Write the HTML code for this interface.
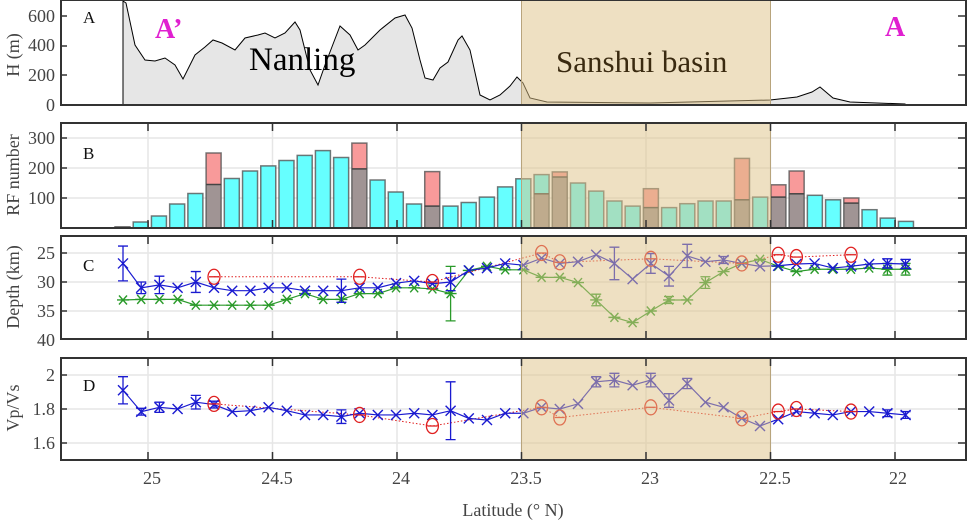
<!DOCTYPE html><html><head><meta charset="utf-8"><style>
body{margin:0;background:#fff}svg{display:block}
text{font-family:"Liberation Serif",serif}
</style></head><body>
<svg id="s" width="970" height="520" viewBox="0 0 970 520" xmlns="http://www.w3.org/2000/svg">
<rect width="970" height="520" fill="#fff"/>
<g id="grid"></g>
<path d="M123,105 L123,1 L126,3 L135,45 L145,60 L155,61 L165,58 L175,65 L183,79 L195,55 L205,47 L213,40 L222,43 L235,50 L245,38 L258,35 L265,33 L275,38 L285,33 L295,22 L300,30 L310,70 L318,85 L325,65 L340,26 L350,35 L358,50 L365,45 L380,30 L395,18 L405,15 L412,28 L420,60 L425,78 L433,80 L440,68 L448,62 L458,40 L462,36 L470,50 L480,95 L490,100 L500,95 L510,86 L517,77 L523,83 L530,98 L547,102 L650,103 L770,100 L797,97 L812,92 L820,87 L833,98 L850,102 L905,104 L905,105 Z" fill="#e6e6e6" stroke="#000" stroke-width="1"/>
<g id="bars"></g>
<g id="series"></g>
<g id="shade"></g>
<g id="frames"></g>
<g font-size="18" fill="#444" text-anchor="end">
<text x="55" y="22">600</text><text x="55" y="51">400</text><text x="55" y="81">200</text><text x="55" y="111">0</text>
<text x="55" y="144">300</text><text x="55" y="174">200</text><text x="55" y="204">100</text>
<text x="55" y="259">25</text><text x="55" y="288">30</text><text x="55" y="317">35</text><text x="55" y="346">40</text>
<text x="55" y="381">2</text><text x="55" y="415">1.8</text><text x="55" y="449">1.6</text>
</g>
<g font-size="18" fill="#444" text-anchor="middle">
<text x="152" y="484">25</text><text x="277" y="484">24.5</text><text x="401" y="484">24</text><text x="526" y="484">23.5</text><text x="650" y="484">23</text><text x="775" y="484">22.5</text><text x="898" y="484">22</text>
<text x="513" y="516">Latitude (° N)</text>
</g>
<g font-size="18" fill="#444" text-anchor="middle">
<text transform="translate(19,55) rotate(-90)">H (m)</text>
<text transform="translate(19,175) rotate(-90)">RF number</text>
<text transform="translate(19,287) rotate(-90)">Depth (km)</text>
<text transform="translate(19,408) rotate(-90)">Vp/Vs</text>
</g>
<g font-size="17" fill="#111">
<text x="83" y="23">A</text><text x="83" y="159">B</text><text x="83" y="271">C</text><text x="83" y="391">D</text>
</g>
<text x="155" y="38" font-size="28" font-weight="bold" fill="#e020d0">A’</text>
<text x="885" y="36" font-size="28" font-weight="bold" fill="#e020d0">A</text>
<text x="249" y="70" font-size="33" fill="#000">Nanling</text>
<text x="556" y="72" font-size="31" fill="#3a2a10">Sanshui basin</text>
</svg>
<script>
const NS="http://www.w3.org/2000/svg";
function el(p,t,a){const e=document.createElementNS(NS,t);for(const k in a)e.setAttribute(k,a[k]);document.getElementById(p).appendChild(e);return e;}
const X0=61,X1=966;
const xs=l=>148+(25-l)*249;
const panels=[[0,105],[123,228],[236,339],[358,460]];
const lats=[25,24.5,24,23.5,23,22.5,22];
for(let p=1;p<4;p++){for(const l of lats)el("grid","line",{x1:xs(l),x2:xs(l),y1:panels[p][0],y2:panels[p][1],stroke:"#e6e6e6","stroke-width":1.5});}
for(const y of [138,168,198,253,282,311,375,409,443])el("grid","line",{x1:X0,x2:X1,y1:y,y2:y,stroke:"#e6e6e6","stroke-width":1.5});
const B=[[8,0],[20,0],[40,0],[80,0],[115,0],[145,250],[165,0],[190,0],[207,0],[225,0],[242,0],[258,0],[235,0],[197,283],[160,0],[120,0],[80,0],[73,188],[73,0],[85,0],[103,0],[137,0],[164,0],[178,114],[170,187],[150,0],[123,0],[90,0],[73,0],[68,131],[68,0],[81,0],[90,0],[90,0],[94,232],[103,0],[103,144],[114,190],[109,0],[94,0],[83,100],[61,0],[33,0],[22,0]];
const cx=i=>122.5+18.22*i, by=v=>228-v*0.3;
B.forEach((b,i)=>{const [c,r]=b,x=cx(i)-7.5,w=15;
 const s={stroke:"#555","stroke-width":1.5,"stroke-opacity":0.8};
 if(i==0){el("bars","rect",Object.assign({x:x,y:by(4),width:w,height:4*0.3,fill:"#888"},s));return;}
 if(r==0){el("bars","rect",Object.assign({x:x,y:by(c),width:w,height:c*0.3,fill:"#66ffff"},s));return;}
 const lo=Math.min(c,r),hi=Math.max(c,r);
 el("bars","rect",{x:x,y:by(hi),width:w,height:(hi-lo)*0.3,fill:r>c?"#f89a9a":"#66ffff"});
 el("bars","rect",{x:x,y:by(lo),width:w,height:lo*0.3,fill:"#a09494"});
 el("bars","rect",Object.assign({x:x,y:by(hi),width:w,height:hi*0.3,fill:"none"},s));
 el("bars","line",{x1:x,x2:x+w,y1:by(lo),y2:by(lo),stroke:"#444","stroke-width":1.5});
});
const px=i=>123+18.2*i;
const dy=d=>253+(d-25)*5.8, vy=v=>375+(2-v)*170;
const Cb=[26.8,31,30.5,31,30,31,31.5,31.5,31,31,31.5,31.5,31.5,31,31,30.2,29.8,30.3,30,28,27.6,26.8,27.1,25.9,26.8,26.5,25.3,26.8,29.5,26.8,29,25.5,26.5,26.2,26.8,27.3,27.2,26.9,26.8,27.6,27.3,26.9,26.8,26.9];
const Cbe={0:3,1:1,2:1.5,4:1.8,12:2,18:1.5,27:2.8,29:1.7,30:1.7,31:2,33:0.6,42:0.8,43:0.8};
const Cg=[33.1,33,33,33,34,34,34,34,34,33,32,33,33,32,32,31,31,31.2,32,28,27.3,27.9,27.9,29.2,29.2,30.1,33.1,36.1,37,35,33.1,33.1,30.1,28.2,26.8,26.1,27.3,28.2,27.8,27.8,27.8,27.6,27.8,27.8];
const Cge={18:4.7,26:1,32:1,30:0.6,42:1,43:1};
const Db=[1.91,1.784,1.81,1.8,1.84,1.826,1.784,1.79,1.81,1.79,1.765,1.765,1.755,1.775,1.765,1.765,1.775,1.765,1.79,1.745,1.735,1.775,1.775,1.81,1.8,1.83,1.96,1.97,1.94,1.97,1.85,1.95,1.84,1.81,1.745,1.70,1.74,1.785,1.775,1.765,1.785,1.785,1.775,1.765];
const Dbe={0:0.08,1:0.02,2:0.03,4:0.04,5:0.02,12:0.04,18:0.17,26:0.03,27:0.04,29:0.04,30:0.04,31:0.03,42:0.02,43:0.02};
const RI=[5,13,17,23,24,29,34,36,37,40];
const Cr=[29.1,29.1,30,25,26.6,26,26.8,25.3,25.7,25.3];
const Dr=[1.83,1.765,1.70,1.81,1.75,1.81,1.745,1.785,1.80,1.785];
function line(pts,col,w,dash){el("series","polyline",{points:pts.map(p=>p.join(",")).join(" "),fill:"none",stroke:col,"stroke-width":w,"stroke-dasharray":dash||"none"});}
function err(x,y0,y1,col){el("series","path",{d:`M${x},${y0}V${y1}M${x-5},${y0}h10M${x-5},${y1}h10`,stroke:col,"stroke-width":1.3,fill:"none"});}
function xm(x,y,col){el("series","path",{d:`M${x-5},${y-5}l10,10M${x-5},${y+5}l10,-10`,stroke:col,"stroke-width":1.4,fill:"none"});}
function ast(x,y,col){el("series","path",{d:`M${x-6},${y}h12M${x-4},${y-4.5}l8,9M${x-4},${y+4.5}l8,-9`,stroke:col,"stroke-width":1.4,fill:"none"});}
function circ(x,y){el("series","ellipse",{cx:x,cy:y,rx:6,ry:7.5,fill:"none",stroke:"#e02020","stroke-width":1.3});el("series","line",{x1:x-5,x2:x+5,y1:y,y2:y,stroke:"#e02020","stroke-width":1.3});}
const blue="#1a1ad0",green="#2a9a2a";
line(RI.map((i,k)=>[px(i),dy(Cr[k])]),"#e02020",1,"1.5,2");
line(Cg.map((d,i)=>[px(i),dy(d)]),green,1.2);
Cg.forEach((d,i)=>{if(Cge[i])err(px(i),dy(d-Cge[i]),dy(d+Cge[i]),green);ast(px(i),dy(d),green);});
line(Cb.map((d,i)=>[px(i),dy(d)]),blue,1.2);
Cb.forEach((d,i)=>{if(Cbe[i])err(px(i),dy(d-Cbe[i]),dy(d+Cbe[i]),blue);xm(px(i),dy(d),blue);});
RI.forEach((i,k)=>circ(px(i),dy(Cr[k])));
line(RI.map((i,k)=>[px(i),vy(Dr[k])]),"#e02020",1,"1.5,2");
line(Db.map((d,i)=>[px(i),vy(d)]),blue,1.2);
Db.forEach((d,i)=>{if(Dbe[i])err(px(i),vy(d+Dbe[i]),vy(d-Dbe[i]),blue);xm(px(i),vy(d),blue);});
RI.forEach((i,k)=>circ(px(i),vy(Dr[k])));
const sx0=xs(23.5),sx1=xs(22.5);
panels.forEach(p=>el("shade","rect",{x:sx0,y:p[0],width:sx1-sx0,height:p[1]-p[0],fill:"rgba(222,193,133,0.5)",stroke:"#b8a47c","stroke-width":1}));
panels.forEach((p,k)=>{
 el("frames","rect",{x:X0,y:p[0],width:X1-X0,height:p[1]-p[0],fill:"none",stroke:"#333","stroke-width":2});
 if(k>0)for(const l of lats){const x=xs(l);el("frames","path",{d:`M${x},${p[0]}v8M${x},${p[1]}v-8`,stroke:"#333","stroke-width":1.5});}
});
[[16,46,75,105],[138,168,198],[253,282,311],[375,409,443]].forEach(a=>a.forEach(y=>el("frames","path",{d:`M${X0},${y}h6M${X1},${y}h-8`,stroke:"#333","stroke-width":1.5})));
</script>
</body></html>
